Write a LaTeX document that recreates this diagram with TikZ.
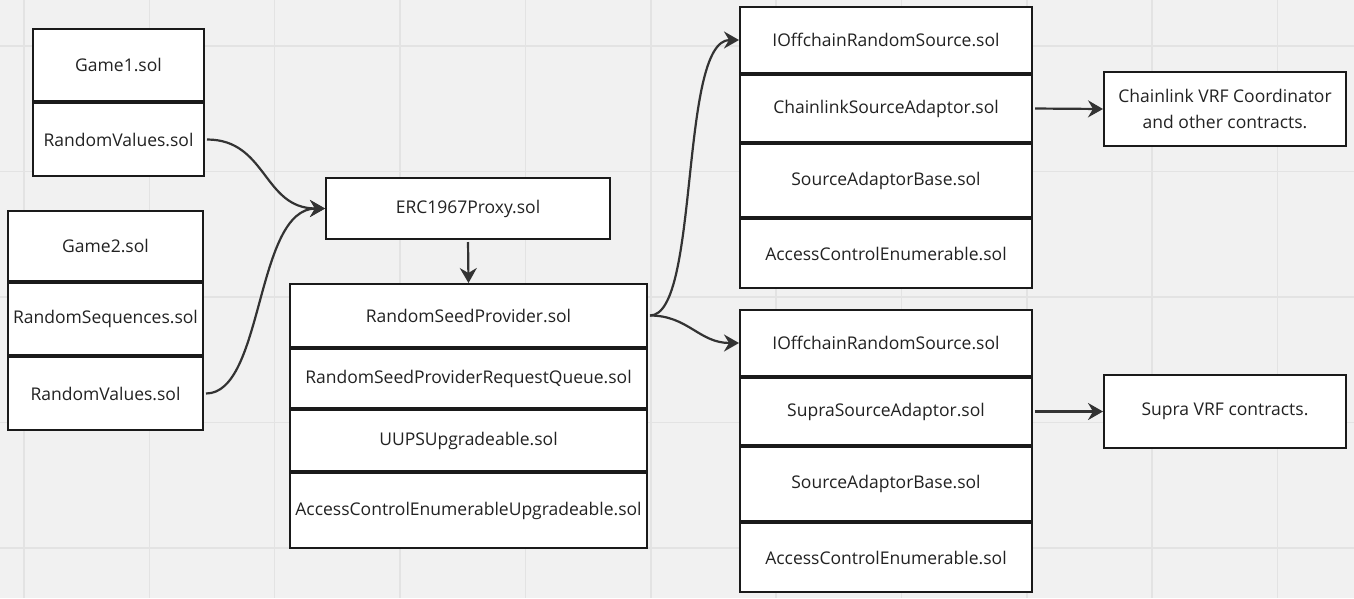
\documentclass[tikz,border=0pt]{standalone}
\usepackage{fontspec}
\setmainfont{Open Sans}
\usetikzlibrary{arrows.meta}
\definecolor{bg}{HTML}{F1F1F1}
\definecolor{gridc}{HTML}{E3E3E3}
\definecolor{edge}{HTML}{1A1A1A}
\definecolor{wire}{HTML}{333333}
\definecolor{txt}{HTML}{222222}
\tikzset{
  sec/.style={draw=edge, line width=2pt, fill=white, text=txt, inner sep=0pt,
    font=\fontsize{17.5}{25.5}\selectfont, align=center},
  arr/.style={draw=wire, line width=2.2pt, -{Stealth[length=15pt,width=17pt,inset=5pt]}, shorten <=2pt},
}
% name, x1, x2, ytop, ybottom, text
\newcommand{\secbox}[6]{%
  \node[sec, minimum width={(#3-#2-2)*1pt}, minimum height={(#5-#4-2)*1pt}] (#1) at ({(#2+#3)/2},{(#4+#5)/2}) {#6};}
\begin{document}
\begin{tikzpicture}[x=1pt,y=-1pt]
\fill[bg] (0,0) rectangle (1354,598);
\useasboundingbox (0,0) rectangle (1354,598);
\foreach \k in {0,...,10} \draw[gridc, line width=1.5pt] (24+125.35*\k,0) -- (24+125.35*\k,598);
\foreach \k in {0,...,4} \draw[gridc, line width=1.5pt] (0,46+125.5*\k) -- (1354,46+125.5*\k);

% group 1
\secbox{g1}{32}{205}{28}{102}{Game1.sol}
\secbox{rv1}{32}{205}{102}{177}{RandomValues.sol}
% group 2
\secbox{g2}{7}{204}{210}{282}{Game2.sol}
\secbox{rs}{7}{204}{282}{356}{RandomSequences.sol}
\secbox{rv2}{7}{204}{356}{431}{RandomValues.sol}
% proxy
\secbox{erc}{325}{611}{177}{240}{ERC1967Proxy.sol}
% RSP group
\secbox{rsp}{289}{648}{283}{348}{RandomSeedProvider.sol}
\secbox{rspq}{289}{648}{348}{409}{RandomSeedProviderRequestQueue.sol}
\secbox{uups}{289}{648}{409}{472}{UUPSUpgradeable.sol}
\secbox{acu}{289}{648}{472}{549}{AccessControlEnumerableUpgradeable.sol}
% chainlink group
\secbox{ioc}{739}{1033}{6}{74}{IOffchainRandomSource.sol}
\secbox{csa}{739}{1033}{74}{143}{ChainlinkSourceAdaptor.sol}
\secbox{sabc}{739}{1033}{143}{218}{SourceAdaptorBase.sol}
\secbox{acec}{739}{1033}{218}{289}{AccessControlEnumerable.sol}
\secbox{cvrf}{1103}{1347}{71}{147}{Chainlink VRF Coordinator\\and other contracts.}
% supra group
\secbox{ios}{739}{1033}{309}{377}{IOffchainRandomSource.sol}
\secbox{ssa}{739}{1033}{377}{446}{SupraSourceAdaptor.sol}
\secbox{sabs}{739}{1033}{446}{522}{SourceAdaptorBase.sol}
\secbox{aces}{739}{1033}{522}{593}{AccessControlEnumerable.sol}
\secbox{svrf}{1103}{1347}{374}{449}{Supra VRF contracts.}

% connectors
\draw[arr] (rv1.east) .. controls +(62,0) and +(-62,0) .. (erc.west);
\draw[arr] (rv2.east) .. controls +(60,0) and +(-70,0) .. (erc.west);
\draw[arr] (erc.south) -- (rsp.north);
\draw[arr] (rsp.east) .. controls +(52,0) and +(-60,0) .. (ioc.west);
\draw[arr] (rsp.east) .. controls +(40,0) and +(-40,0) .. (ios.west);
\draw[arr] (csa.east) -- (cvrf.west);
\draw[arr] (ssa.east) -- (svrf.west);
\end{tikzpicture}
\end{document}
